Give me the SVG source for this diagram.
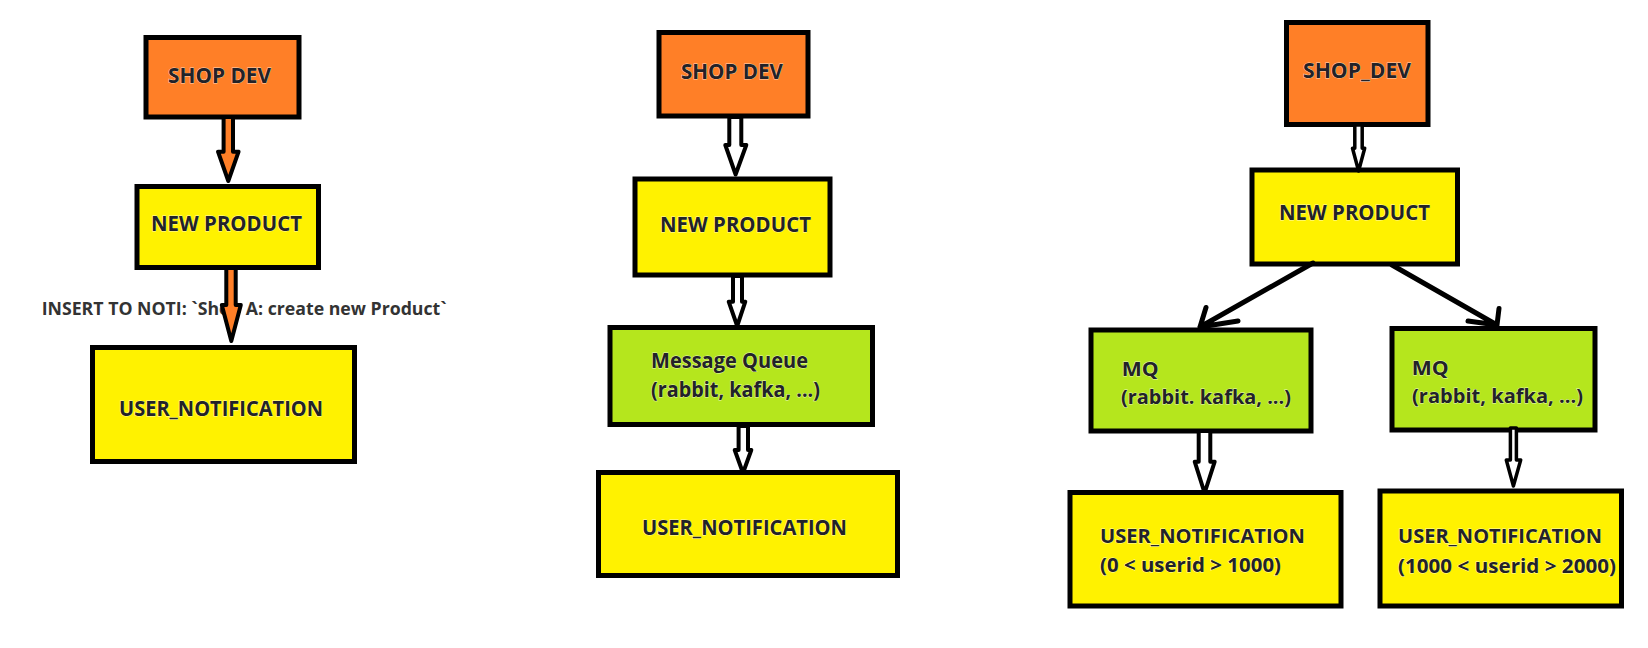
<svg xmlns="http://www.w3.org/2000/svg" width="1648" height="648" viewBox="0 0 1648 648">
<style>
  .box { stroke: #000; stroke-width: 5; }
  .orange { fill: #FF7F27; }
  .yellow { fill: #FFF200; }
  .green { fill: #B5E61D; }
  .t { font-family: "Open Sans", Lato, "Liberation Sans", sans-serif; font-weight: 700; font-size: 21px; fill: #222228; stroke: #ffffff; stroke-width: 0.8; stroke-opacity: 0.7; paint-order: stroke; }
  .t2 { font-size: 20px; }
  .lbl { font-family: "Open Sans", Lato, "Liberation Sans", sans-serif; font-weight: 700; font-size: 18px; fill: #333333; }
  .blk { stroke: #000; stroke-width: 4; stroke-linejoin: round; }
  .hollow { fill: #ffffff; }
  .ofill { fill: #FF7F27; }
  .line { fill: none; stroke: #000; stroke-width: 5; stroke-linecap: round; stroke-linejoin: round; }
</style>
<rect width="1648" height="648" fill="#ffffff"/>

<text class="lbl" x="41.7" y="315" textLength="405" lengthAdjust="spacingAndGlyphs">INSERT TO NOTI: `Shop A: create new Product`</text>

<g id="left-shop-dev">
  <rect class="box orange" x="146" y="37.5" width="153" height="79.5"/>
  <text class="t" x="168" y="82.7" textLength="103" lengthAdjust="spacingAndGlyphs">SHOP DEV</text>
</g>
<g id="left-new-product">
  <rect class="box yellow" x="137" y="186.5" width="181.5" height="81"/>
  <text class="t" x="151" y="231" textLength="151" lengthAdjust="spacingAndGlyphs">NEW PRODUCT</text>
</g>
<g id="left-user-notification">
  <rect class="box yellow" x="92.5" y="347.5" width="262" height="114"/>
  <text class="t" x="119" y="416" textLength="204" lengthAdjust="spacingAndGlyphs">USER_NOTIFICATION</text>
</g>

<g id="mid-shop-dev">
  <rect class="box orange" x="659" y="32.5" width="149" height="83.5"/>
  <text class="t" x="681" y="78.5" textLength="102" lengthAdjust="spacingAndGlyphs">SHOP DEV</text>
</g>
<g id="mid-new-product">
  <rect class="box yellow" x="635" y="179" width="195" height="96"/>
  <text class="t" x="660" y="231.7" textLength="151" lengthAdjust="spacingAndGlyphs">NEW PRODUCT</text>
</g>
<g id="mid-message-queue">
  <rect class="box green" x="610" y="327.5" width="262.5" height="97"/>
  <text class="t" x="651" y="368.3" textLength="157" lengthAdjust="spacingAndGlyphs">Message Queue</text>
  <text class="t" x="651" y="396.5" textLength="169" lengthAdjust="spacingAndGlyphs">(rabbit, kafka, ...)</text>
</g>
<g id="mid-user-notification">
  <rect class="box yellow" x="598.5" y="472.5" width="299" height="103"/>
  <text class="t" x="642" y="535" textLength="205" lengthAdjust="spacingAndGlyphs">USER_NOTIFICATION</text>
</g>

<g id="right-shop-dev">
  <rect class="box orange" x="1286.5" y="22.5" width="141.5" height="102"/>
  <text class="t" x="1303" y="78.3" textLength="108" lengthAdjust="spacingAndGlyphs">SHOP_DEV</text>
</g>
<g id="right-new-product">
  <rect class="box yellow" x="1252" y="170" width="205.5" height="94"/>
  <text class="t" x="1279" y="220" textLength="151" lengthAdjust="spacingAndGlyphs">NEW PRODUCT</text>
</g>
<g id="right-mq-1">
  <rect class="box green" x="1091" y="330" width="220" height="101"/>
  <text class="t t2" x="1121.7" y="376" textLength="37" lengthAdjust="spacingAndGlyphs">MQ</text>
  <text class="t t2" x="1121" y="404" textLength="170" lengthAdjust="spacingAndGlyphs">(rabbit. kafka, ...)</text>
</g>
<g id="right-mq-2">
  <rect class="box green" x="1392" y="328.5" width="203" height="101.5"/>
  <text class="t t2" x="1411.7" y="375" textLength="37" lengthAdjust="spacingAndGlyphs">MQ</text>
  <text class="t t2" x="1412" y="403" textLength="171" lengthAdjust="spacingAndGlyphs">(rabbit, kafka, ...)</text>
</g>
<g id="right-user-notification-1">
  <rect class="box yellow" x="1070" y="492.5" width="271" height="113.5"/>
  <text class="t t2" x="1100" y="542.7" textLength="205" lengthAdjust="spacingAndGlyphs">USER_NOTIFICATION</text>
  <text class="t t2" x="1100" y="571.7" textLength="181" lengthAdjust="spacingAndGlyphs">(0 &lt; userid &gt; 1000)</text>
</g>
<g id="right-user-notification-2">
  <rect class="box yellow" x="1380" y="491" width="241.5" height="115"/>
  <text class="t t2" x="1398" y="542.7" textLength="204" lengthAdjust="spacingAndGlyphs">USER_NOTIFICATION</text>
  <text class="t t2" x="1398" y="572.7" textLength="218" lengthAdjust="spacingAndGlyphs">(1000 &lt; userid &gt; 2000)</text>
</g>

<g id="connectors">
  <!-- left column: orange block arrows -->
  <polygon class="blk ofill" points="223.6,117 223.6,151.7 218,151.7 228.3,181 238.6,151.7 233,151.7 233,117"/>
  <polygon class="blk ofill" points="226.3,268 226.3,305 221.8,305 231.3,341 240.8,305 235.7,305 235.7,268"/>
  <!-- middle column: hollow block arrows -->
  <polygon class="blk hollow" points="729.3,117 729.3,145 725.3,145 735.6,174.5 746.3,145 741.3,145 741.3,117"/>
  <polygon class="blk hollow" points="733,276 733,301.7 728.7,301.7 737.2,326 745.3,301.7 742,301.7 742,276"/>
  <polygon class="blk hollow" points="738.6,426 738.6,450 734.7,450 743,473 751.3,450 748,450 748,426"/>
  <!-- right column -->
  <polygon class="blk hollow" style="stroke-width:3.5" points="1354.8,125 1354.8,148.3 1352.5,148.3 1358.6,171 1364.7,148.3 1362.2,148.3 1362.2,125"/>
  <polygon class="blk hollow" points="1198.7,431 1198.7,461.7 1194.7,461.7 1204.6,493 1214.7,461.7 1210.3,461.7 1210.3,431"/>
  <polygon class="blk hollow" style="stroke-width:3.5" points="1510.4,428 1510.4,460 1506.3,460 1513.4,486 1520.7,460 1516.4,460 1516.4,428"/>
  <!-- diagonal open arrows -->
  <path class="line" d="M1313,263 L1200,327 M1206,307.5 L1200,327 L1238,321"/>
  <path class="line" d="M1392,265 L1497,325 M1499,308.5 L1497,325 L1468,321"/>
</g>
</svg>
